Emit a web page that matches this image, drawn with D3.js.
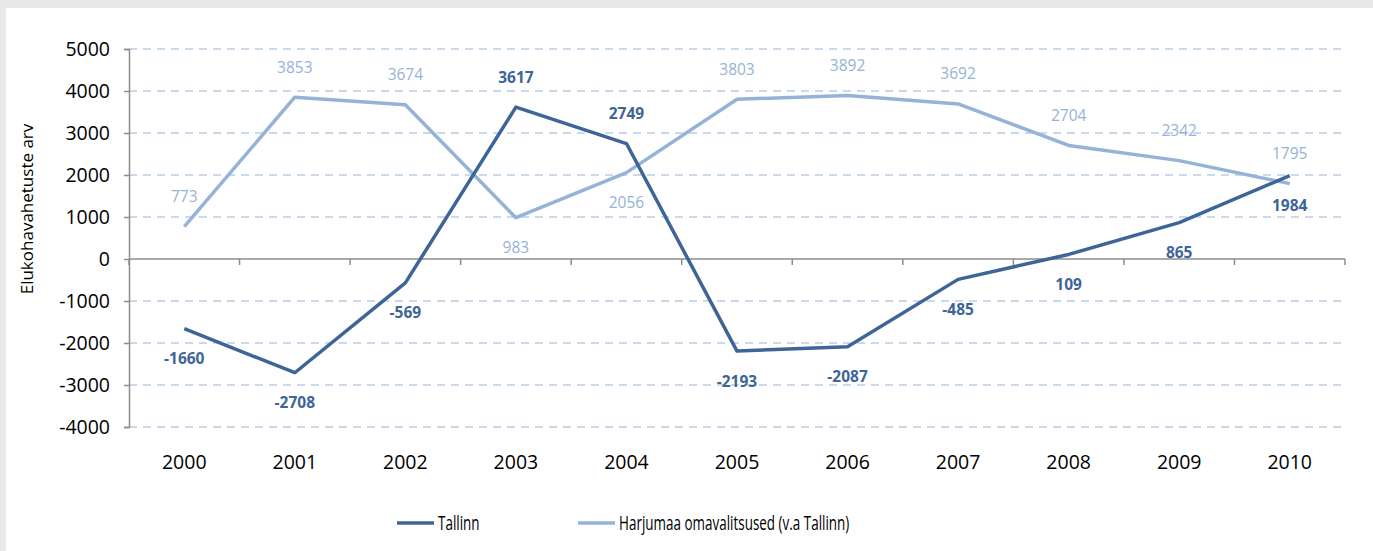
<!DOCTYPE html>
<html>
<head>
<meta charset="utf-8">
<script src="https://cdn.jsdelivr.net/npm/d3@7"></script>
<style>
  html, body { margin: 0; padding: 0; background: #e8e8e8; }
  #viz { position: absolute; left: 6px; top: 8px; width: 1367px; height: 543px; background: #ffffff; }
  text { font-family: "Open Sans", "DejaVu Sans", sans-serif; }
</style>
</head>
<body>
<div id="viz"></div>
<script>
const years = ["2000", "2001", "2002", "2003", "2004", "2005", "2006", "2007", "2008", "2009", "2010"];
const tallinn = [-1660, -2708, -569, 3617, 2749, -2193, -2087, -485, 109, 865, 1984];
const harjumaa = [773, 3853, 3674, 983, 2056, 3803, 3892, 3692, 2704, 2342, 1795];
// which side of the point each value label sits on
const tallinnLabelSide = ["below", "below", "below", "above", "above", "below", "below", "below", "below", "below", "below"];
const harjumaaLabelSide = ["above", "above", "above", "below", "below", "above", "above", "above", "above", "above", "above"];
const yTicks = [-4000, -3000, -2000, -1000, 0, 1000, 2000, 3000, 4000, 5000];
const seriesNames = ["Tallinn", "Harjumaa omavalitsused (v.a Tallinn)"];

const W = 1367, H = 543;
const ox = 6, oy = 8; // panel offset in page

const darkBlue = "#3d6597";
const lightBlue = "#95b3d7";
const gridBlue = "#b9cde5";
const axisGray = "#8c8c8c";

const svg = d3.select("#viz").append("svg").attr("width", W).attr("height", H);
const g = svg.append("g").attr("transform", `translate(${-ox},${-oy})`);

const x = d3.scaleBand().domain(years).range([129, 1345]);
const y = d3.scaleLinear().domain([-4000, 5000]).range([427, 49]);
const cx = (d) => x(d) + x.bandwidth() / 2;

// gridlines
g.append("g")
  .selectAll("line")
  .data(yTicks.filter((t) => t !== 0))
  .join("line")
  .attr("x1", 129)
  .attr("x2", 1345)
  .attr("y1", (d) => y(d))
  .attr("y2", (d) => y(d))
  .attr("stroke", gridBlue)
  .attr("stroke-width", 1.5)
  .attr("stroke-dasharray", "8,6");

// y axis
const yAxis = g.append("g")
  .attr("transform", "translate(129,0)")
  .call(d3.axisLeft(y).tickValues(yTicks).tickSize(5).tickPadding(14).tickFormat((d) => String(d)));
yAxis.select(".domain").attr("stroke", axisGray).attr("stroke-width", 1.5);
yAxis.selectAll(".tick line").attr("stroke", axisGray).attr("stroke-width", 1.5);
yAxis.selectAll("text")
  .attr("fill", "#000")
  .style("font-size", "19.5px")
  .style("font-family", "'Open Sans', sans-serif");

// x axis on zero line, ticks at category boundaries
const xAxisG = g.append("g").attr("transform", `translate(0,${y(0)})`);
xAxisG.append("line")
  .attr("x1", 129).attr("x2", 1345)
  .attr("stroke", axisGray).attr("stroke-width", 1.5);
const bounds = years.map((d) => x(d)).concat([x(years[years.length - 1]) + x.bandwidth()]);
xAxisG.selectAll("line.tk")
  .data(bounds)
  .join("line")
  .attr("class", "tk")
  .attr("x1", (d) => d).attr("x2", (d) => d)
  .attr("y1", 0).attr("y2", 6)
  .attr("stroke", axisGray).attr("stroke-width", 1.5);

// category labels at bottom
g.append("g")
  .selectAll("text")
  .data(years)
  .join("text")
  .attr("x", (d) => cx(d))
  .attr("y", 469)
  .attr("text-anchor", "middle")
  .attr("fill", "#000")
  .style("font-size", "19.5px")
  .text((d) => d);

// y axis title
g.append("text")
  .attr("transform", "translate(33,209) rotate(-90)")
  .attr("text-anchor", "middle")
  .attr("fill", "#000")
  .style("font-size", "17px")
  .text("Elukohavahetuste arv");

const line = d3.line().x((d, i) => cx(years[i])).y((d) => y(d));

g.append("path")
  .datum(harjumaa)
  .attr("d", line)
  .attr("fill", "none")
  .attr("stroke", lightBlue)
  .attr("stroke-width", 3.5)
  .attr("stroke-linejoin", "round");

g.append("path")
  .datum(tallinn)
  .attr("d", line)
  .attr("fill", "none")
  .attr("stroke", darkBlue)
  .attr("stroke-width", 3.5)
  .attr("stroke-linejoin", "round");

function labels(values, sides, color, weight) {
  g.append("g")
    .selectAll("text")
    .data(values)
    .join("text")
    .attr("x", (d, i) => cx(years[i]))
    .attr("y", (d, i) => y(d) + (sides[i] === "above" ? -30 : 30))
    .attr("dy", "0.35em")
    .attr("text-anchor", "middle")
    .attr("fill", color)
    .style("font-size", "15.5px")
    .style("font-weight", weight)
    .text((d) => d);
}
labels(harjumaa, harjumaaLabelSide, lightBlue, "normal");
labels(tallinn, tallinnLabelSide, darkBlue, "bold");

// legend (condensed text, like the original)
const legend = g.append("g").attr("transform", "translate(0,523)");
const legendItems = [
  { name: seriesNames[0], color: darkBlue, x0: 397 },
  { name: seriesNames[1], color: lightBlue, x0: 578 }
];
legendItems.forEach((it) => {
  legend.append("line")
    .attr("x1", it.x0).attr("x2", it.x0 + 37)
    .attr("y1", 0).attr("y2", 0)
    .attr("stroke", it.color).attr("stroke-width", 3.5);
  legend.append("text")
    .attr("transform", `translate(${it.x0 + 41},0) scale(0.69,1)`)
    .attr("dy", "0.35em")
    .attr("fill", "#000")
    .style("font-size", "19.5px")
    .text(it.name);
});
</script>
</body>
</html>
